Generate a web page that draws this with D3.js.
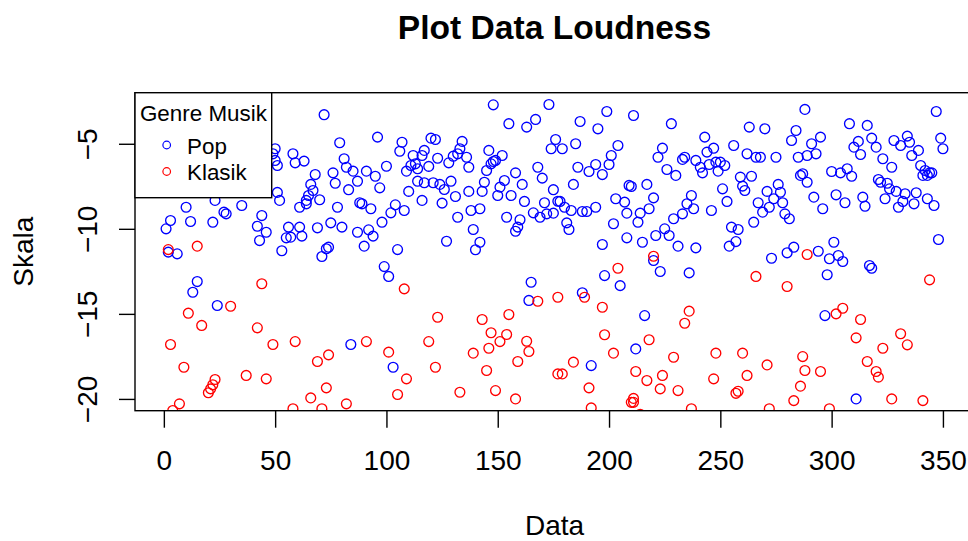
<!DOCTYPE html>
<html>
<head>
<meta charset="utf-8">
<script src="https://cdn.jsdelivr.net/npm/d3@7"></script>
<style>
  html, body { margin: 0; padding: 0; background: #fff; }
  svg { display: block; font-family: "Liberation Sans", Arial, sans-serif; }
</style>
</head>
<body>
<div id="chart"></div>
<script>
// values: [data index, loudness]
var popData = [
  [51,-7.86],[52,-8.33],[10,-8.73],[23,-8.33],[27,-9.02],[28,-9.12],[35,-8.63],[44,-9.22],[3,-9.51],[1,-10.0],
  [12,-9.57],[22,-9.61],[42,-9.85],[46,-10.2],[43,-10.69],[2,-11.37],[6,-11.47],[15,-13.1],[13,-13.73],[24,-14.51],[53,-11.29],
  [72,-3.29],[79,-4.94],[96,-4.61],[107,-4.91],[106,-5.44],[50,-5.29],[49,-5.59],[50,-5.98],[51,-6.28],[58,-5.59],
  [59,-6.12],[63,-6.02],[81,-5.88],[82,-6.38],[85,-6.61],[76,-6.71],[77,-7.32],[68,-6.81],[91,-6.61],[95,-6.91],
  [100,-6.32],[109,-6.61],[87,-7.2],[83,-7.7],[66,-7.39],[67,-7.75],[65,-8.04],[64,-8.33],[64,-8.53],[70,-8.29],
  [97,-7.59],[61,-8.73],[78,-8.73],[88,-8.47],[89,-8.53],[93,-8.82],[104,-8.59],[102,-9.06],[108,-8.92],[110,-7.8],
  [98,-9.61],[75,-9.65],[80,-9.9],[69,-9.94],[56,-9.9],[61,-9.9],[55,-10.53],[57,-10.49],[62,-10.43],[87,-10.2],
  [92,-10.06],[94,-10.43],[90,-11.02],[74,-11.08],[73,-11.17],[71,-11.63],[105,-11.22],[99,-12.22],[101,-12.8],[84,-16.8],[103,-18.14],
  [148,-2.71],[173,-2.69],[155,-3.82],[163,-4.02],[167,-3.57],[120,-4.67],[122,-4.75],[134,-4.86],[133,-5.29],[176,-4.75],
  [174,-5.29],[112,-5.69],[117,-5.39],[116,-5.69],[113,-6.18],[114,-6.47],[111,-6.28],[119,-6.33],[123,-5.85],[128,-6.12],
  [130,-5.73],[132,-5.59],[136,-5.79],[137,-6.38],[146,-5.39],[147,-6.18],[148,-6.04],[149,-5.98],[152,-5.69],[145,-6.57],
  [144,-7.26],[153,-7.16],[151,-7.55],[150,-8.04],[158,-6.71],[161,-7.39],[156,-8.04],[162,-8.39],[168,-6.38],[170,-7.02],
  [175,-7.7],[177,-8.38],[171,-8.47],[166,-9.06],[169,-9.32],[172,-9.12],[175,-9.08],[114,-7.2],[117,-7.29],[121,-7.29],
  [124,-7.39],[126,-7.69],[129,-7.2],[116,-8.33],[125,-8.49],[131,-8.1],[137,-7.8],[143,-7.8],[138,-8.92],[142,-8.82],
  [132,-9.32],[154,-9.32],[160,-9.47],[159,-9.9],[158,-10.14],[139,-10.04],[127,-10.73],[142,-10.79],[140,-11.23],[165,-13.14],[164,-14.21],
  [199,-3.1],[211,-3.34],[187,-3.69],[195,-4.12],[228,-3.82],[179,-5.29],[185,-5.0],[204,-5.1],[201,-5.69],[200,-6.22],
  [186,-6.38],[191,-6.63],[194,-6.22],[197,-6.81],[224,-5.26],[222,-5.79],[226,-6.51],[230,-6.86],[184,-7.39],[209,-7.45],
  [210,-7.51],[217,-7.39],[203,-8.23],[207,-8.43],[208,-9.08],[214,-9.08],[213,-9.61],[218,-8.82],[220,-8.18],[237,-8.04],
  [235,-8.53],[238,-8.82],[233,-9.12],[229,-9.41],[178,-8.39],[180,-8.73],[183,-8.92],[188,-8.98],[190,-8.98],[194,-8.73],
  [181,-9.65],[182,-10.04],[202,-9.7],[225,-10.0],[221,-10.39],[227,-10.39],[208,-10.53],[215,-10.79],[231,-11.02],[197,-10.92],
  [239,-11.12],[220,-11.86],[223,-12.51],[198,-12.75],[205,-13.34],[236,-12.59],[188,-13.76],[216,-15.1],[212,-17.06],[192,-18.04],
  [233,-5.92],[234,-5.79],
  [288,-2.98],[263,-4.02],[270,-4.12],[284,-4.22],[282,-4.81],[243,-4.61],[295,-4.61],[291,-5.0],[293,-5.59],[289,-5.69],
  [256,-5.1],[247,-5.26],[244,-5.49],[239,-5.98],[241,-6.38],[242,-6.71],[245,-6.22],[248,-6.08],[250,-6.08],[249,-6.61],
  [252,-6.28],[262,-5.59],[266,-5.79],[268,-5.79],[275,-5.79],[285,-5.79],[259,-6.96],[264,-6.91],[260,-7.49],[261,-7.75],
  [286,-6.86],[287,-6.76],[289,-7.26],[276,-7.39],[271,-7.8],[277,-7.85],[274,-8.23],[278,-8.47],[272,-8.73],[269,-9.02],
  [267,-8.47],[279,-9.12],[281,-9.41],[265,-9.61],[251,-7.65],[253,-8.39],[246,-8.92],[292,-8.14],[296,-8.82],[255,-9.9],
  [258,-10.04],[257,-10.75],[254,-11.02],[283,-11.08],[280,-11.41],[273,-11.73],[294,-11.32],[299,-11.76],[298,-12.7],[301,-10.79],
  [297,-15.1],[300,-6.63],[302,-8.0],
  [347,-3.1],[308,-3.82],[316,-3.92],[349,-4.67],[350,-5.29],[312,-4.86],[310,-5.2],[313,-5.63],[318,-4.67],[320,-5.2],
  [328,-4.81],[331,-5.1],[334,-4.55],[335,-4.91],[336,-5.69],[339,-5.39],[323,-5.88],[327,-6.38],[340,-6.28],[342,-6.57],
  [344,-6.71],[341,-6.86],[345,-6.71],[343,-6.86],[304,-6.71],[307,-6.47],[309,-6.91],[321,-7.1],[322,-7.26],[325,-7.32],
  [326,-7.65],[329,-7.8],[333,-7.94],[338,-7.88],[337,-8.53],[332,-8.39],[330,-8.73],[324,-8.23],[343,-8.23],[346,-8.63],
  [306,-8.47],[314,-8.14],[315,-8.67],[348,-10.63],[303,-11.57],[305,-11.92],[317,-12.16],[318,-12.32],[311,-20.0]
];

var klasikData = [
  [2,-11.22],[15,-11.02],[44,-13.23],[30,-14.55],[11,-14.96],[17,-15.68],[42,-15.82],[3,-16.8],[49,-16.8],[9,-18.14],
  [37,-18.62],[46,-18.82],[23,-18.86],[22,-19.17],[21,-19.41],[20,-19.64],[7,-20.29],[4,-20.68],[34,-21.0],
  [108,-13.53],[59,-16.63],[91,-16.63],[69,-17.8],[74,-17.41],[101,-17.25],[109,-18.82],[73,-19.35],[66,-19.94],[82,-20.29],
  [105,-19.74],[58,-20.58],[71,-20.58],[88,-21.0],[97,-21.0],[106,-21.0],
  [168,-14.26],[177,-14.02],[123,-15.2],[143,-15.33],[155,-15.04],[147,-16.11],[154,-16.21],[151,-16.63],[119,-16.63],[163,-16.61],
  [164,-17.21],[139,-17.31],[146,-17.02],[159,-17.8],[122,-18.14],[145,-18.33],[177,-18.53],[133,-19.61],[149,-19.51],[158,-20.0],
  [220,-11.61],[204,-12.32],[189,-14.02],[197,-14.61],[236,-14.84],[234,-15.55],[198,-16.23],[218,-16.52],[202,-17.31],[229,-17.55],
  [184,-17.84],[179,-18.53],[212,-18.39],[217,-18.92],[224,-18.62],[191,-19.35],[223,-19.41],[231,-19.51],[211,-19.97],[211,-20.2],
  [210,-20.2],[192,-20.53],[214,-20.9],[237,-20.58],
  [289,-11.51],[266,-12.8],[280,-13.39],[302,-15.0],[248,-17.31],[260,-17.31],[287,-17.51],[271,-18.0],[288,-18.33],[295,-18.39],
  [247,-18.82],[262,-18.62],[286,-19.25],[258,-19.55],[257,-19.67],[283,-20.1],[272,-20.58],[299,-20.58],
  [344,-13.0],[305,-14.67],[313,-15.33],[311,-16.41],[331,-16.17],[334,-16.82],[323,-17.02],[316,-17.8],[320,-18.39],[321,-18.72],
  [327,-20.0],[341,-20.1]
];

var xTicks = [0, 50, 100, 150, 200, 250, 300, 350];
var yTicks = [-20, -15, -10, -5];
var legendLabels = ['Pop', 'Klasik'];
var seriesColors = ['blue', 'red'];

var W = 968, H = 541;
var plot = {left: 135, right: 974, top: 92.7, bottom: 410.7};

var svg = d3.select('#chart').append('svg').attr('width', W).attr('height', H);

// R style: axis limits from the first series, padded 4% on each side
var xExt = d3.extent(popData, function(d){ return d[0]; });
var yExt = d3.extent(popData, function(d){ return d[1]; });
var xPad = (xExt[1] - xExt[0]) * 0.04, yPad = (yExt[1] - yExt[0]) * 0.04;

var x = d3.scaleLinear().domain([xExt[0] - xPad, xExt[1] + xPad]).range([plot.left, plot.right]);
var y = d3.scaleLinear().domain([yExt[0] - yPad, yExt[1] + yPad]).range([plot.bottom, plot.top]);

svg.append('defs').append('clipPath').attr('id', 'plotclip').append('rect')
  .attr('x', plot.left).attr('y', plot.top)
  .attr('width', plot.right - plot.left).attr('height', plot.bottom - plot.top);

var pts = svg.append('g').attr('clip-path', 'url(#plotclip)');

[popData, klasikData].forEach(function(series, i){
  pts.append('g').selectAll('circle').data(series).enter().append('circle')
    .attr('cx', function(d){ return x(d[0]); })
    .attr('cy', function(d){ return y(d[1]); })
    .attr('r', 4.9)
    .attr('fill', 'none')
    .attr('stroke', seriesColors[i])
    .attr('stroke-width', 1.35);
});

// box
svg.append('rect')
  .attr('x', plot.left).attr('y', plot.top)
  .attr('width', plot.right - plot.left).attr('height', plot.bottom - plot.top)
  .attr('fill', 'none').attr('stroke', '#000').attr('stroke-width', 1.4);

// x axis
var gx = svg.append('g').attr('transform', 'translate(0,' + plot.bottom + ')')
  .call(d3.axisBottom(x).tickValues(xTicks).tickSize(17).tickSizeOuter(0).tickPadding(22));
gx.select('.domain').remove();
gx.selectAll('line').attr('stroke', '#000').attr('stroke-width', 1.4);
gx.selectAll('text').attr('font-size', 28).attr('fill', '#000')
  .attr('font-family', '"Liberation Sans", Arial, sans-serif');

// y axis, labels turned like R does
var gy = svg.append('g').attr('transform', 'translate(' + plot.left + ',0)')
  .call(d3.axisLeft(y).tickValues(yTicks).tickSize(16).tickSizeOuter(0));
gy.select('.domain').remove();
gy.selectAll('line').attr('stroke', '#000').attr('stroke-width', 1.4);
gy.selectAll('text')
  .attr('x', null).attr('dy', null)
  .attr('transform', 'translate(-38,0) rotate(-90)')
  .attr('text-anchor', 'middle')
  .attr('font-size', 28).attr('fill', '#000')
  .attr('font-family', '"Liberation Sans", Arial, sans-serif');

var midX = (plot.left + plot.right) / 2, midY = (plot.top + plot.bottom) / 2;

svg.append('text').attr('x', midX).attr('y', 39)
  .attr('text-anchor', 'middle').attr('font-size', 33.6).attr('font-weight', 'bold')
  .text('Plot Data Loudness');

svg.append('text').attr('x', midX).attr('y', 535)
  .attr('text-anchor', 'middle').attr('font-size', 28)
  .text('Data');

svg.append('text').attr('transform', 'translate(33,' + midY + ') rotate(-90)')
  .attr('text-anchor', 'middle').attr('font-size', 28)
  .text('Skala');

// legend (top left, filled box)
var lg = svg.append('g');
lg.append('rect').attr('x', plot.left).attr('y', plot.top)
  .attr('width', 136.7).attr('height', 105)
  .attr('fill', '#fff').attr('stroke', '#000').attr('stroke-width', 1.4);
lg.append('text').attr('x', plot.left + 68.4).attr('y', 121)
  .attr('text-anchor', 'middle').attr('font-size', 22.4)
  .text('Genre Musik');
legendLabels.forEach(function(lab, i){
  var cy = 145 + i * 26.5;
  lg.append('circle').attr('cx', 166.7).attr('cy', cy).attr('r', 3.8)
    .attr('fill', 'none').attr('stroke', seriesColors[i]).attr('stroke-width', 1.2);
  lg.append('text').attr('x', 187).attr('y', cy + 8.5)
    .attr('font-size', 22.4).text(lab);
});
</script>
</body>
</html>
